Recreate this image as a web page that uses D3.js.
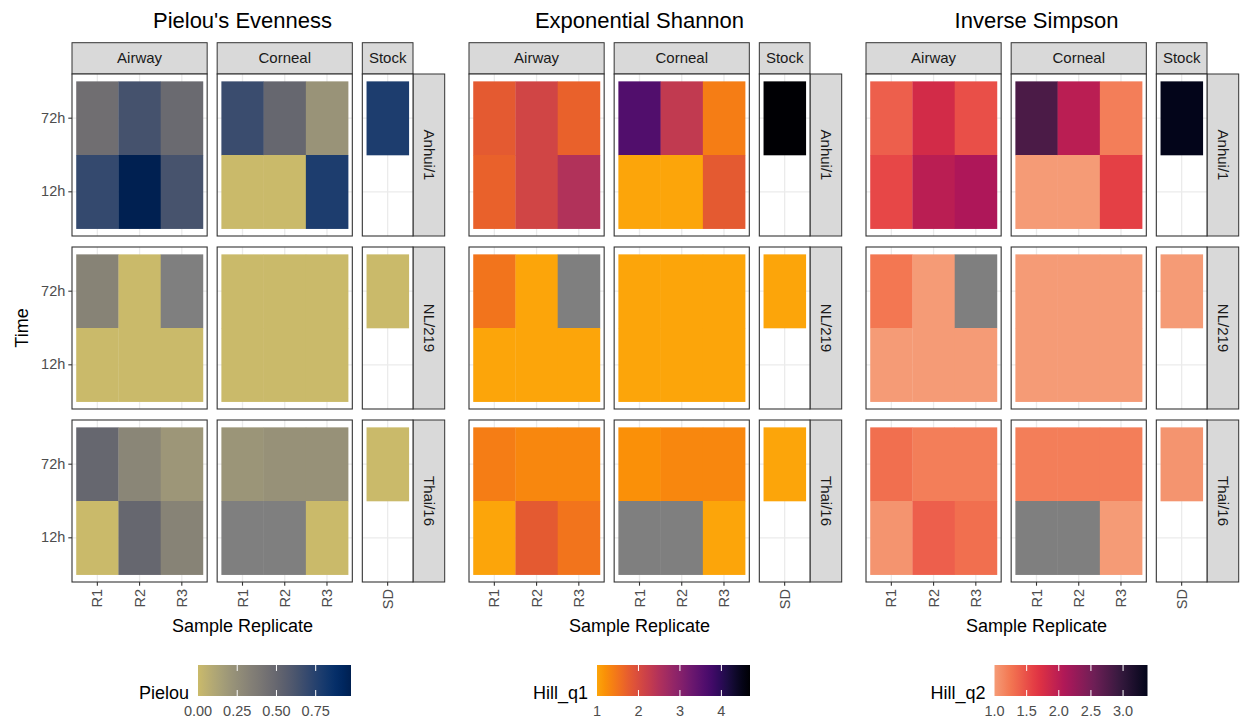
<!DOCTYPE html>
<html>
<head>
<meta charset="utf-8">
<script src="https://d3js.org/d3.v7.min.js"></script>
<style>
body { margin: 0; background: #fff; }
text { font-family: "Liberation Sans", Arial, sans-serif; }
</style>
</head>
<body>
<svg width="1243" height="726"></svg>
<script>
var strains = ["Anhui/1", "NL/219", "Thai/16"];
var times = ["72h", "12h"];
var conditions = ["Airway", "Corneal", "Stock"];
var replicates = [["R1", "R2", "R3"], ["R1", "R2", "R3"], ["SD"]];

// one row per strain: Airway R1-R3, Corneal R1-R3, Stock SD (null = NA)
var pielou72 = [[0.45, 0.64, 0.48, 0.68, 0.50, 0.22, 0.78],
                [0.32, 0, null, 0, 0, 0, 0],
                [0.50, 0.30, 0.20, 0.21, 0.23, 0.23, 0]];
var pielou12 = [[0.70, 0.975, 0.63, 0, 0, 0.78],
                [0, 0, 0, 0, 0, 0],
                [0, 0.50, 0.32, null, null, 0]];

var hillq1_72 = [[1.8, 2.1, 1.7, 3.6, 2.3, 1.4, 4.69],
                 [1.5, 1, null, 1, 1, 1, 1],
                 [1.4, 1.3, 1.3, 1.2, 1.3, 1.3, 1]];
var hillq1_12 = [[1.7, 2.1, 2.5, 1, 1, 1.8],
                 [1, 1, 1, 1, 1, 1],
                 [1, 1.8, 1.5, null, null, 1]];

var hillq2_72 = [[1.4, 1.8, 1.5, 2.8, 2.0, 1.2, 3.38],
                 [1.25, 1, null, 1, 1, 1, 1],
                 [1.3, 1.2, 1.2, 1.2, 1.2, 1.2, 1.05]];
var hillq2_12 = [[1.55, 2.0, 2.1, 1, 1, 1.6],
                 [1, 1, 1, 1, 1, 1],
                 [1.05, 1.4, 1.3, null, null, 1]];

var pielouTicks = [0, 0.25, 0.5, 0.75];
var hillq1Ticks = [1, 2, 3, 4];
var hillq2Ticks = [1, 1.5, 2, 2.5, 3];

// rocket palette stops (viridis "rocket")
var rocketStops = ["#03051A", "#35193e", "#701f57", "#ad1759", "#e13342", "#f37651", "#f6b48f", "#FAEBDD"];
var rocket = d3.scaleLinear()
    .domain([0, 1/7, 2/7, 3/7, 4/7, 5/7, 6/7, 1])
    .range(rocketStops)
    .interpolate(d3.interpolateRgb);

var metrics = [
    { title: "Pielou's Evenness", legend: "Pielou", v72: pielou72, v12: pielou12,
      domain: [0, 0.975], ticks: pielouTicks, fmt: d3.format(".2f"), pal: d3.interpolateCividis },
    { title: "Exponential Shannon", legend: "Hill_q1", v72: hillq1_72, v12: hillq1_12,
      domain: [1, 4.69], ticks: hillq1Ticks, fmt: d3.format("d"), pal: d3.interpolateInferno },
    { title: "Inverse Simpson", legend: "Hill_q2", v72: hillq2_72, v12: hillq2_12,
      domain: [1, 3.38], ticks: hillq2Ticks, fmt: d3.format(".1f"), pal: function(t) { return rocket(t); } }
];

var svg = d3.select("svg");
var defs = svg.append("defs");

var plotOffsets = [0, 397, 794];
var legendBarX = [198, 597, 994.5], legendBarW = 153;
var panelLeft = 72, panelRight = 413, colGap = 10;
var rowTops = [74, 247, 420], rowH = 162;
var stripTop = 42.7, stripH = 31.3, rStripW = 31.7;
var naColor = "#7F7F7F";

var nUnits = replicates.map(function(r) { return r.length + 0.2; });
var unit = (panelRight - panelLeft - colGap * 2) / d3.sum(nUnits);
var colX = [], cx = panelLeft;
nUnits.forEach(function(n) { colX.push([cx, cx + n * unit]); cx += n * unit + colGap; });

var xScales = replicates.map(function(r, j) {
    return d3.scaleBand().domain(r).range(colX[j]).paddingInner(0).paddingOuter(0.1);
});
var y = d3.scaleBand().domain(times).range([0, rowH]).paddingInner(0).paddingOuter(0.1);

metrics.forEach(function(m, k) {
    var off = plotOffsets[k];
    var g = svg.append("g").attr("transform", "translate(" + off + ",0)");
    var tScale = d3.scaleLinear().domain(m.domain).range([0.8, 0]).clamp(true);
    var color = function(v) { return v === null ? naColor : m.pal(tScale(v)); };

    // title
    g.append("text").attr("x", (panelLeft + panelRight) / 2).attr("y", 28)
        .attr("text-anchor", "middle").attr("font-size", 22).attr("fill", "#000")
        .text(m.title);

    // top strips
    conditions.forEach(function(c, j) {
        g.append("rect").attr("x", colX[j][0]).attr("y", stripTop)
            .attr("width", colX[j][1] - colX[j][0]).attr("height", stripH)
            .attr("fill", "#D9D9D9").attr("stroke", "#333").attr("stroke-width", 1);
        g.append("text").attr("x", (colX[j][0] + colX[j][1]) / 2).attr("y", stripTop + stripH / 2 + 5)
            .attr("text-anchor", "middle").attr("font-size", 15).attr("fill", "#1A1A1A").text(c);
    });

    strains.forEach(function(s, i) {
        var top = rowTops[i];
        // right strip
        g.append("rect").attr("x", panelRight).attr("y", top)
            .attr("width", rStripW).attr("height", rowH)
            .attr("fill", "#D9D9D9").attr("stroke", "#333").attr("stroke-width", 1);
        g.append("text")
            .attr("transform", "translate(" + (panelRight + rStripW / 2 - 5) + "," + (top + rowH / 2) + ") rotate(90)")
            .attr("text-anchor", "middle").attr("font-size", 15).attr("fill", "#1A1A1A").text(s);

        conditions.forEach(function(c, j) {
            var xs = xScales[j];
            var pg = g.append("g").attr("transform", "translate(0," + top + ")");
            pg.append("rect").attr("x", colX[j][0]).attr("y", 0)
                .attr("width", colX[j][1] - colX[j][0]).attr("height", rowH).attr("fill", "#fff");
            // grid
            xs.domain().forEach(function(r) {
                var gx = xs(r) + xs.bandwidth() / 2;
                pg.append("line").attr("x1", gx).attr("x2", gx).attr("y1", 0).attr("y2", rowH)
                    .attr("stroke", "#EBEBEB").attr("stroke-width", 1.3);
            });
            times.forEach(function(t) {
                var gy = y(t) + y.bandwidth() / 2;
                pg.append("line").attr("x1", colX[j][0]).attr("x2", colX[j][1]).attr("y1", gy).attr("y2", gy)
                    .attr("stroke", "#EBEBEB").attr("stroke-width", 1.3);
            });
            // tiles
            var base = j * 3;
            var cells = [];
            xs.domain().forEach(function(r, ri) {
                cells.push({ rep: r, time: "72h", v: m.v72[i][base + ri] });
                if (m.v12[i][base + ri] !== undefined) cells.push({ rep: r, time: "12h", v: m.v12[i][base + ri] });
            });
            pg.selectAll(".tile").data(cells).enter().append("rect")
                .attr("x", function(d) { return xs(d.rep); })
                .attr("y", function(d) { return y(d.time); })
                .attr("width", xs.bandwidth() + 0.3)
                .attr("height", y.bandwidth() + 0.3)
                .attr("fill", function(d) { return color(d.v); });
            pg.append("rect").attr("x", colX[j][0]).attr("y", 0)
                .attr("width", colX[j][1] - colX[j][0]).attr("height", rowH)
                .attr("fill", "none").attr("stroke", "#333").attr("stroke-width", 1.1);

            // x axis under bottom row
            if (i === strains.length - 1) {
                var ax = g.append("g").attr("transform", "translate(0," + (top + rowH) + ")");
                ax.call(d3.axisBottom(xs).tickSize(3.7).tickPadding(3));
                ax.select(".domain").remove();
                ax.selectAll(".tick line").attr("stroke", "#333").attr("stroke-width", 1.1);
                ax.selectAll(".tick text")
                    .attr("transform", "rotate(-90)")
                    .attr("x", -7).attr("y", 0).attr("dy", "0.35em")
                    .attr("text-anchor", "end")
                    .attr("font-size", 14.5).attr("fill", "#4D4D4D")
                    .style("font-family", "'Liberation Sans', Arial, sans-serif");
            }
            // y axis on first plot
            if (k === 0 && j === 0) {
                var ay = g.append("g").attr("transform", "translate(" + panelLeft + "," + top + ")");
                ay.call(d3.axisLeft(y).tickSize(3.7).tickPadding(3));
                ay.select(".domain").remove();
                ay.selectAll(".tick line").attr("stroke", "#333").attr("stroke-width", 1.1);
                ay.selectAll(".tick text").attr("font-size", 14.5).attr("fill", "#4D4D4D")
                    .style("font-family", "'Liberation Sans', Arial, sans-serif");
            }
        });
    });

    // axis titles
    g.append("text").attr("x", (panelLeft + panelRight) / 2).attr("y", 632)
        .attr("text-anchor", "middle").attr("font-size", 18).attr("fill", "#000").text("Sample Replicate");
    if (k === 0) {
        g.append("text").attr("transform", "translate(28," + ((rowTops[0] + rowTops[2] + rowH) / 2) + ") rotate(-90)")
            .attr("text-anchor", "middle").attr("font-size", 18).attr("fill", "#000").text("Time");
    }

    // legend
    var lx = legendBarX[k] - off, ly = 665, lh = 31;
    var gid = "grad" + k;
    var grad = defs.append("linearGradient").attr("id", gid).attr("x1", "0%").attr("x2", "100%");
    d3.range(0, 1.0001, 0.05).forEach(function(p) {
        var v = m.domain[0] + p * (m.domain[1] - m.domain[0]);
        grad.append("stop").attr("offset", (p * 100) + "%").attr("stop-color", color(v));
    });
    g.append("rect").attr("x", lx).attr("y", ly).attr("width", legendBarW).attr("height", lh)
        .attr("fill", "url(#" + gid + ")");
    var lsc = d3.scaleLinear().domain(m.domain).range([lx, lx + legendBarW]);
    m.ticks.forEach(function(t) {
        var tx = lsc(t);
        if (t > m.domain[0]) {
            g.append("line").attr("x1", tx).attr("x2", tx).attr("y1", ly).attr("y2", ly + 6)
                .attr("stroke", "#fff").attr("stroke-width", 1);
            g.append("line").attr("x1", tx).attr("x2", tx).attr("y1", ly + lh - 6).attr("y2", ly + lh)
                .attr("stroke", "#fff").attr("stroke-width", 1);
        }
        g.append("text").attr("x", tx).attr("y", 716).attr("text-anchor", "middle")
            .attr("font-size", 14.5).attr("fill", "#4D4D4D").text(m.fmt(t));
    });
    g.append("text").attr("x", lx - 9).attr("y", 699).attr("text-anchor", "end")
        .attr("font-size", 18).attr("fill", "#000").text(m.legend);
});
</script>
</body>
</html>
